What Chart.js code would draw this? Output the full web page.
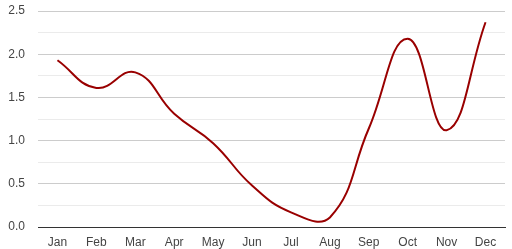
<!DOCTYPE html>
<html>
<head>
<meta charset="utf-8">
<script src="https://cdn.jsdelivr.net/npm/chart.js@4/dist/chart.umd.min.js"></script>
<style>
  html, body { margin: 0; padding: 0; background: #fff; }
  #wrap { width: 512px; height: 249px; position: relative; }
</style>
</head>
<body>
<div id="wrap"><canvas id="chart"></canvas></div>
<script>
const months = ["Jan", "Feb", "Mar", "Apr", "May", "Jun", "Jul", "Aug", "Sep", "Oct", "Nov", "Dec"];
const values = [1.93, 1.61, 1.79, 1.31, 0.97, 0.48, 0.17, 0.11, 1.14, 2.18, 1.12, 2.37];
const yTicks = [0, 0.5, 1.0, 1.5, 2.0, 2.5];

function isMajor(v) {
  return yTicks.some((t) => Math.abs(t - v) < 1e-6);
}

Chart.defaults.font.family = "'Liberation Sans', Arial, sans-serif";
Chart.defaults.font.size = 12;
Chart.defaults.color = "#444";

new Chart(document.getElementById("chart"), {
  type: "line",
  data: {
    labels: months,
    datasets: [
      {
        data: values,
        borderColor: "#990000",
        borderWidth: 2,
        pointRadius: 0,
        tension: 0.45,
        fill: false
      }
    ]
  },
  options: {
    responsive: true,
    maintainAspectRatio: false,
    animation: false,
    layout: {
      padding: { left: 0, right: 7, top: 11, bottom: 0 }
    },
    plugins: {
      legend: { display: false },
      tooltip: { enabled: false }
    },
    scales: {
      x: {
        offset: true,
        grid: { display: false, drawTicks: false },
        border: { display: true, color: "#333", width: 1 },
        ticks: { padding: 8, maxRotation: 0, autoSkip: false },
        afterFit: (scale) => {
          scale.height = 22;
          scale.paddingLeft = 0;
          scale.paddingRight = 0;
        }
      },
      y: {
        min: 0,
        max: 2.5,
        border: { display: false },
        grid: {
          drawTicks: false,
          color: (ctx) => (ctx.tick && isMajor(ctx.tick.value) ? "#cccccc" : "#ebebeb")
        },
        ticks: {
          stepSize: 0.25,
          padding: 13,
          callback: (v) => (isMajor(v) ? Number(v).toFixed(1) : "")
        },
        afterFit: (scale) => {
          scale.width = 38;
          scale.paddingTop = 0;
          scale.paddingBottom = 0;
        }
      }
    }
  }
});
</script>
</body>
</html>
